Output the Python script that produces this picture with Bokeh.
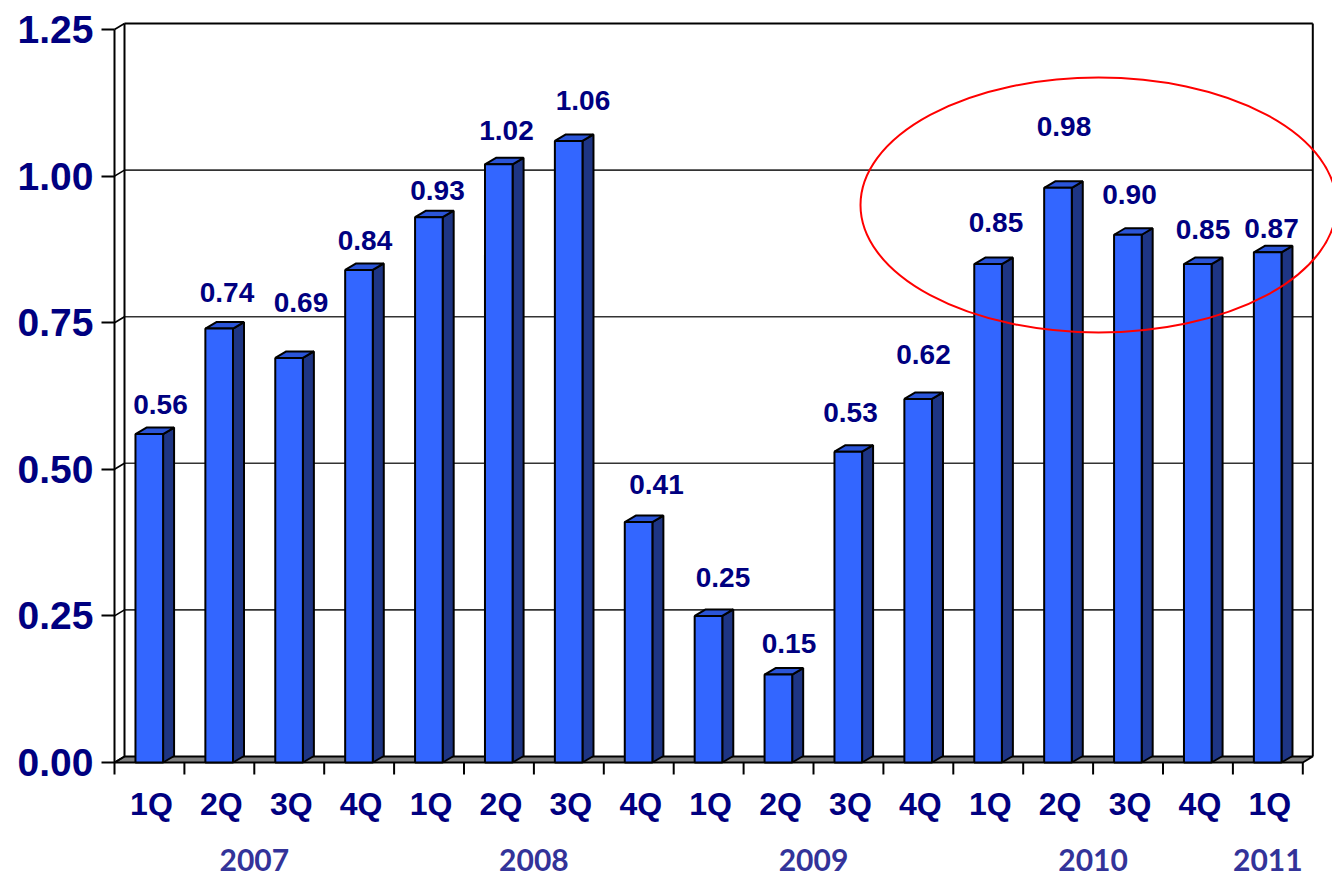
from bokeh.plotting import figure
from bokeh.models import FixedTicker, NumeralTickFormatter, Range1d
from bokeh.embed import file_html
from bokeh.resources import INLINE
from bokeh.core.properties import value

# ---------------- data ----------------
quarters = ["1Q", "2Q", "3Q", "4Q", "1Q", "2Q", "3Q", "4Q", "1Q",
            "2Q", "3Q", "4Q", "1Q", "2Q", "3Q", "4Q", "1Q"]
values = [0.56, 0.74, 0.69, 0.84, 0.93, 1.02, 1.06, 0.41, 0.25,
          0.15, 0.53, 0.62, 0.85, 0.98, 0.90, 0.85, 0.87]
years = ["2007", "2008", "2009", "2010", "2011"]
quarters_per_year = [4, 4, 4, 4, 1]
y_ticks = [0.0, 0.25, 0.50, 0.75, 1.00, 1.25]
# hand-placed value labels: offset (pixels) from the bar's top centre
label_dx = [11, 7.6, 11.7, 5.8, 8.4, 7.5, 14.1, 17.7, 14.3, 10.4, 2, 5.1, 7.7, 5.8, 1.4, 5, 3.6]
label_dy = [29.6, 35.6, 54.9, 29.4, 26.6, 33.9, 40.4, 37.6, 38.4, 31.5, 39.2, 44.4, 41.1, 61.3, 40.2, 34.6, 23.8]

# ---------------- layout ----------------
W, H = 1332, 875
FRAME_LEFT, FRAME_TOP = 112, 20
PX_X = 69.9      # pixels per category
PX_Y = 586.4     # pixels per unit of value
X0_PX, Y0_PX = 114, 762   # pixel position of (0, 0)

n = len(values)
DX, DY = 10 / PX_X, 6 / PX_Y        # depth of walls
BDX, BDY = 11 / PX_X, 6.5 / PX_Y    # depth of bars

p = figure(width=W, height=H,
           x_range=Range1d(-(X0_PX - FRAME_LEFT) / PX_X, (W - X0_PX) / PX_X),
           y_range=Range1d(-(H - Y0_PX) / PX_Y, (Y0_PX - FRAME_TOP) / PX_Y),
           output_backend="svg", toolbar_location=None,
           min_border_left=FRAME_LEFT, min_border_right=0,
           min_border_top=FRAME_TOP, min_border_bottom=0)
p.outline_line_color = None
p.background_fill_color = "white"
p.border_fill_color = "white"
p.xgrid.visible = False
p.ygrid.visible = False
p.xaxis.visible = False

# y axis
ya = p.yaxis[0]
ya.ticker = FixedTicker(ticks=y_ticks, minor_ticks=[])
ya.formatter = NumeralTickFormatter(format="0.00")
ya.axis_line_color = None
ya.major_tick_out = 11
ya.major_tick_in = 2
ya.major_tick_line_width = 2
ya.major_tick_line_color = "black"
ya.minor_tick_out = 0
ya.minor_tick_in = 0
ya.major_label_standoff = 8
ya.major_label_text_font = "Liberation Sans"
ya.major_label_text_font_style = "bold"
ya.major_label_text_font_size = "39px"
ya.major_label_text_color = "#000080"

# ---------------- 3D box ----------------
top = y_ticks[-1]
# floor
p.patch([0, n, n + DX, DX], [0, 0, DY, DY], fill_color="#808080",
        line_color="black", line_width=2)
# back wall gridlines
mid = y_ticks[1:-1]
p.multi_line([[DX, n + DX] for t in mid], [[t + DY, t + DY] for t in mid],
             line_color="#333333", line_width=1.6)
# top edge of back wall
p.multi_line([[DX, n + DX]], [[top + DY, top + DY]], line_color="black", line_width=2)
# left wall diagonals
p.multi_line([[0, DX] for t in y_ticks], [[t, t + DY] for t in y_ticks],
             line_color="black", line_width=1.6)
# vertical edges
p.multi_line([[0, 0], [DX, DX], [n + DX, n + DX]],
             [[0, top], [DY, top + DY], [DY, top + DY]],
             line_color="black", line_width=2)
# category boundary tick marks below the floor
tick_len = 12 / PX_Y
p.segment(x0=list(range(n + 1)), y0=0, x1=list(range(n + 1)), y1=-tick_len,
          line_color="black", line_width=2)

# ---------------- bars ----------------
centers = [i + 0.5 for i in range(n)]
lefts = [i + 0.30 for i in range(n)]
rights = [i + 0.695 for i in range(n)]
side_xs = [[r, r + BDX, r + BDX, r] for r in rights]
side_ys = [[0, BDY, v + BDY, v] for v in values]
top_xs = [[l, r, r + BDX, l + BDX] for l, r in zip(lefts, rights)]
top_ys = [[v, v, v + BDY, v + BDY] for v in values]
p.patches(side_xs, side_ys, fill_color="#1E3584", line_color="black", line_width=2)
p.patches(top_xs, top_ys, fill_color="#2B55D8", line_color="black", line_width=2)
p.quad(left=lefts, right=rights, bottom=0, top=values, fill_color="#3366FF",
       line_color="black", line_width=2)

# value labels
lx = [c + dx / PX_X for c, dx in zip(centers, label_dx)]
ly = [v + dy / PX_Y for v, dy in zip(values, label_dy)]
p.text(x=lx, y=ly, text=[f"{v:.2f}" for v in values],
       text_align="center", text_baseline="middle",
       text_font=value("Liberation Sans"), text_font_style="bold",
       text_font_size="28px", text_color="#000080")

# quarter labels
p.text(x=[c + 2 / PX_X for c in centers], y=-41 / PX_Y, text=quarters,
       text_align="center", text_baseline="middle",
       text_font=value("Liberation Sans"), text_font_style="bold",
       text_font_size="32px", text_color="#000080")

# year labels centred under their quarters
year_x, start = [], 0
for q in quarters_per_year:
    year_x.append(start + q / 2)
    start += q
p.text(x=year_x, y=-97 / PX_Y, text=years,
       text_align="center", text_baseline="middle",
       text_font=value("Lato"), text_font_style="bold",
       text_font_size="30px", text_color="#333399")

# red highlight ellipse
p.ellipse(x=(1098 - X0_PX) / PX_X, y=(Y0_PX - 204.5) / PX_Y,
          width=476 / PX_X, height=255 / PX_Y, fill_color=None,
          line_color="red", line_width=2)

open("out.html", "w").write(file_html(p, INLINE))
